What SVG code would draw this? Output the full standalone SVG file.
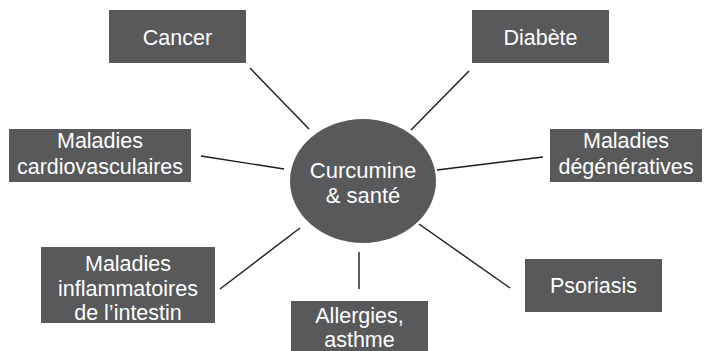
<svg xmlns="http://www.w3.org/2000/svg" width="708" height="351" viewBox="0 0 708 351">
<style>
.box{fill:#58595b}
.t{font-family:"Liberation Sans",Arial,sans-serif;font-size:21.5px;fill:#ffffff;text-anchor:middle}
.c{font-size:22px}
.ln{stroke:#1a1a1a;stroke-width:1.4;fill:none}
</style>
<rect width="708" height="351" fill="#ffffff"/>
<g id="connectors">
<line class="ln" x1="250" y1="68" x2="309" y2="129"/>
<line class="ln" x1="469" y1="71" x2="411" y2="130"/>
<line class="ln" x1="201" y1="156" x2="284" y2="169"/>
<line class="ln" x1="437" y1="170" x2="543" y2="157"/>
<line class="ln" x1="220" y1="289" x2="300" y2="228"/>
<line class="ln" x1="359" y1="252" x2="359" y2="289"/>
<line class="ln" x1="419" y1="224" x2="510" y2="288"/>
</g>
<g id="center">
<ellipse class="box" cx="363" cy="181" rx="73" ry="62"/>
<text class="t c" x="363" y="178">Curcumine</text>
<text class="t c" x="363" y="203">&amp; santé</text>
</g>
<g id="cancer">
<rect class="box" x="109" y="10" width="137" height="53"/>
<text class="t" x="177.5" y="45">Cancer</text>
</g>
<g id="diabete">
<rect class="box" x="472" y="10" width="137" height="53"/>
<text class="t" x="540.5" y="45">Diabète</text>
</g>
<g id="cardio">
<rect class="box" x="9" y="129" width="182" height="53"/>
<text class="t" x="100" y="148">Maladies</text>
<text class="t" x="100" y="174">cardiovasculaires</text>
</g>
<g id="degeneratives">
<rect class="box" x="550" y="129" width="152" height="53"/>
<text class="t" x="626" y="148">Maladies</text>
<text class="t" x="626" y="174">dégénératives</text>
</g>
<g id="intestin">
<rect class="box" x="41" y="247" width="174" height="76"/>
<text class="t" x="128" y="271">Maladies</text>
<text class="t" x="128" y="296">inflammatoires</text>
<text class="t" x="128" y="320">de l’intestin</text>
</g>
<g id="allergies">
<rect class="box" x="291" y="301" width="137" height="50"/>
<text class="t" x="359.5" y="323">Allergies,</text>
<text class="t" x="359.5" y="347">asthme</text>
</g>
<g id="psoriasis">
<rect class="box" x="525" y="259" width="137" height="53"/>
<text class="t" x="593.5" y="293">Psoriasis</text>
</g>
</svg>
